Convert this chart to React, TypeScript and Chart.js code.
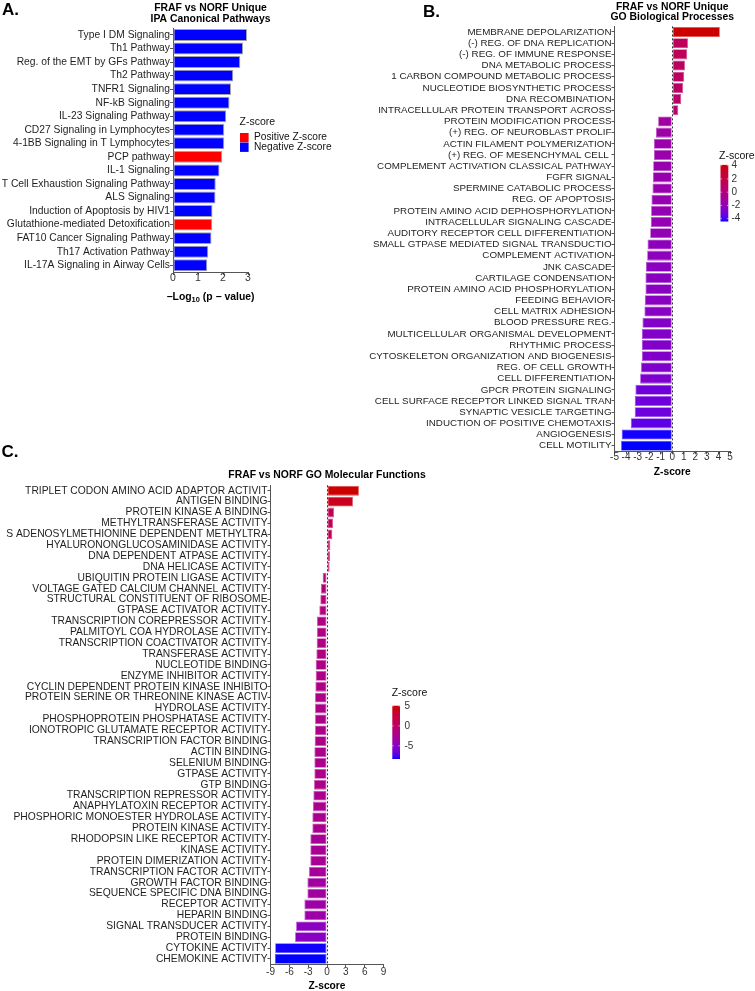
import React, { useEffect, useRef } from 'react';
import { Chart, registerables } from 'chart.js';
Chart.register(...registerables);

const FONT = '"Liberation Sans", Arial, Helvetica, sans-serif';

// ---------------- Panel A data ----------------
const ipaPathways = [
  'Type I DM Signaling', 'Th1 Pathway', 'Reg. of the EMT by GFs Pathway', 'Th2 Pathway',
  'TNFR1 Signaling', 'NF-kB Signaling', 'IL-23 Signaling Pathway', 'CD27 Signaling in Lymphocytes',
  '4-1BB Signaling in T Lymphocytes', 'PCP pathway', 'IL-1 Signaling',
  'T Cell Exhaustion Signaling Pathway', 'ALS Signaling', 'Induction of Apoptosis by HIV1',
  'Glutathione-mediated Detoxification', 'FAT10 Cancer Signaling Pathway',
  'Th17 Activation Pathway', 'IL-17A Signaling in Airway Cells',
];
const ipaNegLog10P = [2.96, 2.80, 2.69, 2.41, 2.32, 2.26, 2.13, 2.05, 2.05, 1.97, 1.86, 1.71, 1.70, 1.58, 1.57, 1.54, 1.41, 1.37];
const ipaDirection = ['Negative', 'Negative', 'Negative', 'Negative', 'Negative', 'Negative', 'Negative', 'Negative',
  'Negative', 'Positive', 'Negative', 'Negative', 'Negative', 'Negative', 'Positive', 'Negative', 'Negative', 'Negative'];
const ipaLegendItems = ['Positive Z-score', 'Negative Z-score'];
const ipaTicks = { min: 0, max: 3, step: 1 };

// ---------------- Panel B data ----------------
const bpTerms = [
  'MEMBRANE DEPOLARIZATION', '(-) REG. OF DNA REPLICATION', '(-) REG. OF IMMUNE RESPONSE',
  'DNA METABOLIC PROCESS', '1 CARBON COMPOUND METABOLIC PROCESS', 'NUCLEOTIDE BIOSYNTHETIC PROCESS',
  'DNA RECOMBINATION', 'INTRACELLULAR PROTEIN TRANSPORT ACROSS', 'PROTEIN MODIFICATION PROCESS',
  '(+) REG. OF NEUROBLAST PROLIF', 'ACTIN FILAMENT POLYMERIZATION', '(+) REG. OF MESENCHYMAL CELL ',
  'COMPLEMENT ACTIVATION CLASSICAL PATHWAY', 'FGFR SIGNAL', 'SPERMINE CATABOLIC PROCESS',
  'REG. OF APOPTOSIS', 'PROTEIN AMINO ACID DEPHOSPHORYLATION', 'INTRACELLULAR SIGNALING CASCADE',
  'AUDITORY RECEPTOR CELL DIFFERENTIATION', 'SMALL GTPASE MEDIATED SIGNAL TRANSDUCTIO',
  'COMPLEMENT ACTIVATION', 'JNK CASCADE', 'CARTILAGE CONDENSATION', 'PROTEIN AMINO ACID PHOSPHORYLATION',
  'FEEDING BEHAVIOR', 'CELL MATRIX ADHESION', 'BLOOD PRESSURE REG.', 'MULTICELLULAR ORGANISMAL DEVELOPMENT',
  'RHYTHMIC PROCESS', 'CYTOSKELETON ORGANIZATION AND BIOGENESIS', 'REG. OF CELL GROWTH',
  'CELL DIFFERENTIATION', 'GPCR PROTEIN SIGNALING', 'CELL SURFACE RECEPTOR LINKED SIGNAL TRAN',
  'SYNAPTIC VESICLE TARGETING', 'INDUCTION OF POSITIVE CHEMOTAXIS', 'ANGIOGENESIS', 'CELL MOTILITY',
];
const bpZ = [4.12, 1.36, 1.30, 1.10, 1.04, 0.93, 0.78, 0.52, -1.22, -1.42, -1.59, -1.59, -1.65, -1.68, -1.71,
  -1.80, -1.83, -1.86, -1.91, -2.14, -2.17, -2.29, -2.32, -2.32, -2.38, -2.41, -2.58, -2.64, -2.64, -2.64,
  -2.70, -2.78, -3.19, -3.25, -3.25, -3.59, -4.38, -4.43];
const bpTicks = { min: -5, max: 5, step: 1 };
const bpLegendBreaks = [4, 2, 0, -2, -4];

// ---------------- Panel C data ----------------
const mfTerms = [
  'TRIPLET CODON AMINO ACID ADAPTOR ACTIVIT', 'ANTIGEN BINDING', 'PROTEIN KINASE A BINDING',
  'METHYLTRANSFERASE ACTIVITY', 'S ADENOSYLMETHIONINE DEPENDENT METHYLTRA', 'HYALURONONGLUCOSAMINIDASE ACTIVITY',
  'DNA DEPENDENT ATPASE ACTIVITY', 'DNA HELICASE ACTIVITY', 'UBIQUITIN PROTEIN LIGASE ACTIVITY',
  'VOLTAGE GATED CALCIUM CHANNEL ACTIVITY', 'STRUCTURAL CONSTITUENT OF RIBOSOME', 'GTPASE ACTIVATOR ACTIVITY',
  'TRANSCRIPTION COREPRESSOR ACTIVITY', 'PALMITOYL COA HYDROLASE ACTIVITY', 'TRANSCRIPTION COACTIVATOR ACTIVITY',
  'TRANSFERASE ACTIVITY', 'NUCLEOTIDE BINDING', 'ENZYME INHIBITOR ACTIVITY',
  'CYCLIN DEPENDENT PROTEIN KINASE INHIBITO', 'PROTEIN SERINE OR THREONINE KINASE ACTIV', 'HYDROLASE ACTIVITY',
  'PHOSPHOPROTEIN PHOSPHATASE ACTIVITY', 'IONOTROPIC GLUTAMATE RECEPTOR ACTIVITY', 'TRANSCRIPTION FACTOR BINDING',
  'ACTIN BINDING', 'SELENIUM BINDING', 'GTPASE ACTIVITY', 'GTP BINDING', 'TRANSCRIPTION REPRESSOR ACTIVITY',
  'ANAPHYLATOXIN RECEPTOR ACTIVITY', 'PHOSPHORIC MONOESTER HYDROLASE ACTIVITY', 'PROTEIN KINASE ACTIVITY',
  'RHODOPSIN LIKE RECEPTOR ACTIVITY', 'KINASE ACTIVITY', 'PROTEIN DIMERIZATION ACTIVITY',
  'TRANSCRIPTION FACTOR ACTIVITY', 'GROWTH FACTOR BINDING', 'SEQUENCE SPECIFIC DNA BINDING',
  'RECEPTOR ACTIVITY', 'HEPARIN BINDING', 'SIGNAL TRANSDUCER ACTIVITY', 'PROTEIN BINDING',
  'CYTOKINE ACTIVITY', 'CHEMOKINE ACTIVITY',
];
const mfZ = [5.08, 4.13, 1.11, 0.95, 0.85, 0.53, 0.48, 0.42, -0.69, -0.95, -1.06, -1.22, -1.59, -1.59, -1.64,
  -1.69, -1.80, -1.80, -1.85, -1.90, -1.90, -1.90, -1.90, -1.96, -2.01, -2.01, -2.01, -2.06, -2.17, -2.25,
  -2.33, -2.33, -2.65, -2.65, -2.65, -2.86, -3.12, -3.12, -3.60, -3.60, -4.92, -5.08, -8.25, -8.31];
const mfTicks = { min: -9, max: 9, step: 3 };
const mfLegendBreaks = [5, 0, -5];

// ---------------- colour helpers (CIELAB gradient, blue -> red3) ----------------
const toLin = (c: number) => { const v = c / 255; return v <= 0.04045 ? v / 12.92 : Math.pow((v + 0.055) / 1.055, 2.4); };
const fromLin = (v: number) => { const s = v <= 0.0031308 ? 12.92 * v : 1.055 * Math.pow(Math.max(v, 0), 1 / 2.4) - 0.055; return Math.round(Math.min(1, Math.max(0, s)) * 255); };
const WX = 0.95047, WY = 1.0, WZ = 1.08883;
function rgbToLab(rgb: number[]) {
  const [r, g, b] = rgb.map(toLin);
  const X = (0.4124564 * r + 0.3575761 * g + 0.1804375 * b) / WX;
  const Y = (0.2126729 * r + 0.7151522 * g + 0.0721750 * b) / WY;
  const Z = (0.0193339 * r + 0.1191920 * g + 0.9503041 * b) / WZ;
  const f = (t: number) => (t > 216 / 24389 ? Math.cbrt(t) : ((24389 / 27) * t + 16) / 116);
  const fx = f(X), fy = f(Y), fz = f(Z);
  return [116 * fy - 16, 500 * (fx - fy), 200 * (fy - fz)];
}
function labToRgb(lab: number[]) {
  const [L, a, bb] = lab;
  const fy = (L + 16) / 116, fx = fy + a / 500, fz = fy - bb / 200;
  const inv = (t: number) => (t * t * t > 216 / 24389 ? t * t * t : (116 * t - 16) / (24389 / 27));
  const X = inv(fx) * WX, Y = inv(fy) * WY, Z = inv(fz) * WZ;
  const r = 3.2404542 * X - 1.5371385 * Y - 0.4985314 * Z;
  const g = -0.9692660 * X + 1.8760108 * Y + 0.0415560 * Z;
  const b = 0.0556434 * X - 0.2040259 * Y + 1.0572252 * Z;
  return [fromLin(r), fromLin(g), fromLin(b)];
}
const LAB_LOW = rgbToLab([0, 0, 255]);
const LAB_HIGH = rgbToLab([205, 0, 0]);
function gradRgb(v: number, lo: number, hi: number) {
  const t = Math.min(1, Math.max(0, (v - lo) / (hi - lo)));
  return labToRgb(LAB_LOW.map((c, i) => c + (LAB_HIGH[i] - c) * t));
}
const rgbStr = (c: number[], a = 1) => `rgba(${c[0]},${c[1]},${c[2]},${a})`;
const lighten = (c: number[], k: number) => c.map((x) => Math.round(x + (255 - x) * k));

const AXIS = '#555555';
const LABEL = '#1e1e1e';
const TICK = '#333333';

// ---------------- generic panel ----------------
type Legend =
  | { kind: 'discrete'; title: string; tx: number; ty: number; items: string[]; colors: string[]; bx: number; by: number[]; bw: number; bh: number; lx: number; ly: number[]; font: number }
  | { kind: 'bar'; title: string; tx: number; ty: number; bx: number; by: number; bw: number; bh: number; lo: number; hi: number; breaks: number[]; lx: number; font: number };

interface Panel {
  x: number; y: number; w: number; h: number;
  area: { left: number; right: number; top: number; bottom: number };
  labels: string[]; values: number[]; colors: string[]; borders: string[]; borderWidth: number; barPct: number;
  scale: { min: number; max: number; step: number };
  labelFont: number; tickFont: number; tickPad: number;
  titleLines: string[]; titleY: number[]; titleFont: number;
  xTitle: string; xTitleY: number; xTitleFont: number; subscript?: boolean;
  zeroLine: boolean;
  legend: Legend;
}

function drawText(ctx: CanvasRenderingContext2D, s: string, x: number, y: number, size: number, bold: boolean, align: CanvasTextAlign, color = '#000') {
  ctx.save();
  ctx.font = `${bold ? 'bold ' : ''}${size}px ${FONT}`;
  ctx.fillStyle = color;
  ctx.textAlign = align;
  ctx.textBaseline = 'middle';
  ctx.fillText(s, x, y);
  ctx.restore();
}

function makeConfig(p: Panel): any {
  const overlay = {
    id: 'overlay',
    afterDatasetsDraw(chart: any) {
      if (!p.zeroLine) return;
      const ctx = chart.ctx;
      const x0 = Math.round(chart.scales.x.getPixelForValue(0)) + 0.5;
      ctx.save();
      ctx.strokeStyle = '#333';
      ctx.lineWidth = 1;
      ctx.setLineDash([2, 2]);
      ctx.beginPath();
      ctx.moveTo(x0, chart.chartArea.top);
      ctx.lineTo(x0, chart.chartArea.bottom);
      ctx.stroke();
      ctx.restore();
    },
    afterDraw(chart: any) {
      const ctx: CanvasRenderingContext2D = chart.ctx;
      const ca = chart.chartArea;
      const cx = (ca.left + ca.right) / 2;
      p.titleLines.forEach((t, i) => drawText(ctx, t, cx, p.titleY[i], p.titleFont, true, 'center'));
      // axis title
      if (p.subscript) {
        const big = `bold ${p.xTitleFont}px ${FONT}`;
        const small = `bold ${p.xTitleFont * 0.72}px ${FONT}`;
        const parts = [
          { s: '\u2212Log', f: big, dy: 0 },
          { s: '10', f: small, dy: 3 },
          { s: ' (p \u2212 value)', f: big, dy: 0 },
        ];
        ctx.save();
        let total = 0;
        const widths = parts.map((pt) => { ctx.font = pt.f; const w = ctx.measureText(pt.s).width; total += w; return w; });
        let x = cx - total / 2;
        ctx.fillStyle = '#000';
        ctx.textBaseline = 'middle';
        ctx.textAlign = 'left';
        parts.forEach((pt, i) => { ctx.font = pt.f; ctx.fillText(pt.s, x, p.xTitleY + pt.dy); x += widths[i]; });
        ctx.restore();
      } else {
        drawText(ctx, p.xTitle, cx, p.xTitleY, p.xTitleFont, true, 'center');
      }
      // legend
      const L = p.legend;
      if (L.kind === 'discrete') {
        drawText(ctx, L.title, L.tx, L.ty, 10.5, false, 'left', '#111');
        L.items.forEach((it, i) => {
          ctx.fillStyle = L.colors[i];
          ctx.fillRect(L.bx, L.by[i], L.bw, L.bh);
          drawText(ctx, it, L.lx, L.ly[i], L.font, false, 'left', '#111');
        });
      } else {
        drawText(ctx, L.title, L.tx, L.ty, 10.5, false, 'left', '#111');
        const g = ctx.createLinearGradient(0, L.by, 0, L.by + L.bh);
        const n = 24;
        for (let i = 0; i <= n; i++) {
          const v = L.hi - (L.hi - L.lo) * (i / n);
          g.addColorStop(i / n, rgbStr(gradRgb(v, L.lo, L.hi)));
        }
        ctx.fillStyle = g;
        ctx.fillRect(L.bx, L.by, L.bw, L.bh);
        L.breaks.forEach((b) => {
          const y = L.by + ((L.hi - b) / (L.hi - L.lo)) * L.bh;
          ctx.save();
          ctx.strokeStyle = 'rgba(255,255,255,0.9)';
          ctx.lineWidth = 0.6;
          ctx.beginPath();
          ctx.moveTo(L.bx, y); ctx.lineTo(L.bx + 1.5, y);
          ctx.moveTo(L.bx + L.bw - 1.5, y); ctx.lineTo(L.bx + L.bw, y);
          ctx.stroke();
          ctx.restore();
          drawText(ctx, String(b), L.lx, y, L.font, false, 'left', TICK);
        });
      }
    },
  };

  return {
    type: 'bar',
    data: {
      labels: p.labels,
      datasets: [{
        data: p.values,
        backgroundColor: p.colors,
        borderColor: p.borders,
        borderWidth: p.borderWidth,
        borderSkipped: false,
        barPercentage: p.barPct,
        categoryPercentage: 1,
      }],
    },
    options: {
      indexAxis: 'y',
      responsive: false,
      animation: false,
      devicePixelRatio: 1,
      layout: { padding: { top: p.area.top, right: p.w - p.area.right, left: 0, bottom: 0 } },
      plugins: { legend: { display: false }, tooltip: { enabled: false }, title: { display: false } },
      scales: {
        x: {
          type: 'linear',
          min: p.scale.min,
          max: p.scale.max,
          ticks: { stepSize: p.scale.step, autoSkip: false, maxRotation: 0, font: { family: FONT, size: p.tickFont, lineHeight: 1 }, color: TICK, padding: p.tickPad },
          grid: { display: true, drawOnChartArea: false, drawTicks: true, tickLength: 3, color: AXIS, lineWidth: 1 },
          border: { display: true, color: AXIS, width: 1 },
          afterFit: (s: any) => { s.height = p.h - p.area.bottom; },
        },
        y: {
          type: 'category',
          offset: true,
          ticks: { autoSkip: false, font: { family: FONT, size: p.labelFont, lineHeight: 1 }, color: LABEL, padding: 0 },
          grid: { display: true, offset: false, drawOnChartArea: false, drawTicks: true, tickLength: 3, color: AXIS, lineWidth: 1 },
          border: { display: true, color: AXIS, width: 1 },
          afterFit: (s: any) => { s.width = p.area.left; },
        },
      },
    },
    plugins: [overlay],
  };
}

function PanelChart({ p }: { p: Panel }) {
  const ref = useRef<HTMLCanvasElement>(null);
  useEffect(() => {
    const chart = new Chart(ref.current as HTMLCanvasElement, makeConfig(p));
    return () => chart.destroy();
  }, []);
  return (
    <canvas ref={ref} width={p.w} height={p.h}
      style={{ position: 'absolute', left: p.x, top: p.y, width: p.w, height: p.h }} />
  );
}

// ---------------- panel definitions ----------------
const RED = '#FF0000';
const BLUE = '#0000FF';

const panelA: Panel = {
  x: 0, y: 0, w: 340, h: 310,
  area: { left: 173, right: 248, top: 28.2, bottom: 272 },
  labels: ipaPathways,
  values: ipaNegLog10P,
  colors: ipaDirection.map((d) => (d === 'Positive' ? RED : BLUE)),
  borders: ipaDirection.map(() => '#a3a3a3'),
  borderWidth: 1,
  barPct: 0.88,
  scale: ipaTicks,
  labelFont: 10.3, tickFont: 10.5, tickPad: -2,
  titleLines: ['FRAF vs NORF Unique', 'IPA Canonical Pathways'], titleY: [7.8, 19], titleFont: 10.4,
  xTitle: '\u2212Log10 (p \u2212 value)', xTitleY: 297, xTitleFont: 10.4, subscript: true,
  zeroLine: false,
  legend: {
    kind: 'discrete', title: 'Z-score', tx: 239.5, ty: 122.5, items: ipaLegendItems, colors: [RED, BLUE],
    bx: 240, by: [133, 142.6], bw: 8.6, bh: 9.3, lx: 254, ly: [137.5, 147.3], font: 10.2,
  },
};

const bpLo = Math.min(...bpZ), bpHi = Math.max(...bpZ);
const bpRgb = bpZ.map((v) => gradRgb(v, bpLo, bpHi));
const BX = 340;
const panelB: Panel = {
  x: BX, y: 0, w: 415, h: 480,
  area: { left: 614.5 - BX, right: 730 - BX, top: 26.4, bottom: 451.3 },
  labels: bpTerms,
  values: bpZ,
  colors: bpRgb.map((c) => rgbStr(c)),
  borders: bpRgb.map((c) => rgbStr(lighten(c, 0.3))),
  borderWidth: 0.8,
  barPct: 0.9,
  scale: bpTicks,
  labelFont: 9.8, tickFont: 10, tickPad: -2,
  titleLines: ['FRAF vs NORF Unique', 'GO Biological Processes'], titleY: [6.8, 17.3], titleFont: 10.4,
  xTitle: 'Z-score', xTitleY: 472.3, xTitleFont: 10.2,
  zeroLine: true,
  legend: {
    kind: 'bar', title: 'Z-score', tx: 719 - BX, ty: 155.7, bx: 720.5 - BX, by: 164.9, bw: 7.8, bh: 56.6,
    lo: bpLo, hi: bpHi, breaks: bpLegendBreaks, lx: 731.5 - BX, font: 10,
  },
};

const mfLo = Math.min(...mfZ), mfHi = Math.max(...mfZ);
const mfRgb = mfZ.map((v) => gradRgb(v, mfLo, mfHi));
const CY = 460;
const panelC: Panel = {
  x: 0, y: CY, w: 440, h: 531,
  area: { left: 270.5, right: 383.5, top: 485.3 - CY, bottom: 964.4 - CY },
  labels: mfTerms,
  values: mfZ,
  colors: mfRgb.map((c) => rgbStr(c)),
  borders: mfRgb.map((c) => rgbStr(lighten(c, 0.3))),
  borderWidth: 0.8,
  barPct: 0.9,
  scale: mfTicks,
  labelFont: 10.3, tickFont: 10, tickPad: 0,
  titleLines: ['FRAF vs NORF GO Molecular Functions'], titleY: [475 - CY], titleFont: 10.4,
  xTitle: 'Z-score', xTitleY: 986.5 - CY, xTitleFont: 10.2,
  zeroLine: true,
  legend: {
    kind: 'bar', title: 'Z-score', tx: 391.7, ty: 693.3 - CY, bx: 392.3, by: 705.7 - CY, bw: 7.7, bh: 53.3,
    lo: mfLo, hi: mfHi, breaks: mfLegendBreaks, lx: 404.5, font: 10,
  },
};

const letterStyle = (left: number, top: number): React.CSSProperties => ({
  position: 'absolute', left, top, fontFamily: FONT, fontWeight: 'bold', fontSize: 17, lineHeight: '17px', color: '#000',
});

export default function App() {
  return (
    <div style={{ position: 'absolute', left: 0, top: 0, width: 755, height: 991, overflow: 'hidden', background: '#fff' }}>
      <PanelChart p={panelA} />
      <PanelChart p={panelB} />
      <PanelChart p={panelC} />
      <div style={letterStyle(2, 1)}>A.</div>
      <div style={letterStyle(423, 3)}>B.</div>
      <div style={letterStyle(1.5, 443)}>C.</div>
    </div>
  );
}
